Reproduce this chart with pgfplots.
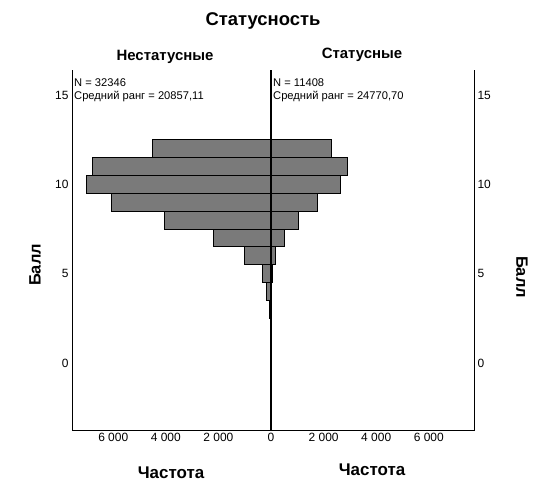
\documentclass[border=0pt]{standalone}
\usepackage{fontspec}
\setmainfont{Liberation Sans}
\usepackage{pgfplots}
\pgfplotsset{compat=1.18}
\begin{document}
\begin{tikzpicture}
\useasboundingbox (0bp,0bp) rectangle (536bp,-490bp);
\begin{axis}[
  at={(72bp,-430bp)}, anchor=south west,
  scale only axis, width=402bp, height=360bp,
  xmin=-7567, xmax=7719, ymin=-3.75, ymax=16.4,
  axis line style={draw=none},
  major tick length=0pt,
  xtick={-6000,-4000,-2000,0,2000,4000,6000},
  xticklabels={6 000,4 000,2 000,0,2 000,4 000,6 000},
  ytick={0,5,10,15},
  /pgf/number format/assume math mode=true,
  ticklabel style={font=\fontsize{12}{14}\selectfont},
  xbar, bar width=1, bar shift=0pt,
  clip=false,
]
\addplot[fill=black!52, draw=black, line width=0.9pt] coordinates {
(-4520,12) (-6800,11) (-7020,10) (-6080,9) (-4060,8) (-2200,7) (-1015,6) (-340,5) (-180,4) (-50,3) (-20,2)};
\addplot[fill=black!52, draw=black, line width=0.9pt] coordinates {
(2300,12) (2900,11) (2650,10) (1780,9) (1040,8) (510,7) (180,6) (70,5) (30,4)};
\draw[black, line width=0.6pt] (rel axis cs:0,1) -- (rel axis cs:0,0) -- (rel axis cs:1,0) -- (rel axis cs:1,1);
\draw[line width=1.3pt] (axis cs:0,-3.75) -- (axis cs:0,16.4);
\end{axis}
\begin{axis}[
  at={(72bp,-430bp)}, anchor=south west,
  scale only axis, width=402bp, height=360bp,
  xmin=-7567, xmax=7719, ymin=-3.75, ymax=16.4,
  axis line style={draw=none},
  major tick length=0pt,
  xtick=\empty,
  ytick={0,5,10,15},
  yticklabel pos=right,
  /pgf/number format/assume math mode=true,
  ticklabel style={font=\fontsize{12}{14}\selectfont},
]
\end{axis}
\node[font=\fontsize{18.5}{21}\selectfont\bfseries] at (263bp,-21bp) {Статусность};
\node[font=\fontsize{15}{17}\selectfont\bfseries] at (165bp,-57bp) {Нестатусные};
\node[font=\fontsize{15}{17}\selectfont\bfseries] at (362bp,-55bp) {Статусные};
\node[anchor=north west, align=left, inner sep=0pt, font=\fontsize{11.2}{13}\selectfont] at (74bp,-79bp) {N = 32346\\Средний ранг = 20857,11};
\node[anchor=north west, align=left, inner sep=0pt, font=\fontsize{11.2}{13}\selectfont] at (273bp,-79bp) {N = 11408\\Средний ранг = 24770,70};
\node[font=\fontsize{17}{19}\selectfont\bfseries] at (171bp,-473bp) {Частота};
\node[font=\fontsize{17}{19}\selectfont\bfseries] at (372bp,-470bp) {Частота};
\node[font=\fontsize{16.5}{19}\selectfont\bfseries, rotate=90] at (35bp,-265bp) {Балл};
\node[font=\fontsize{16.5}{19}\selectfont\bfseries, rotate=-90] at (522bp,-277bp) {Балл};
\end{tikzpicture}
\end{document}
